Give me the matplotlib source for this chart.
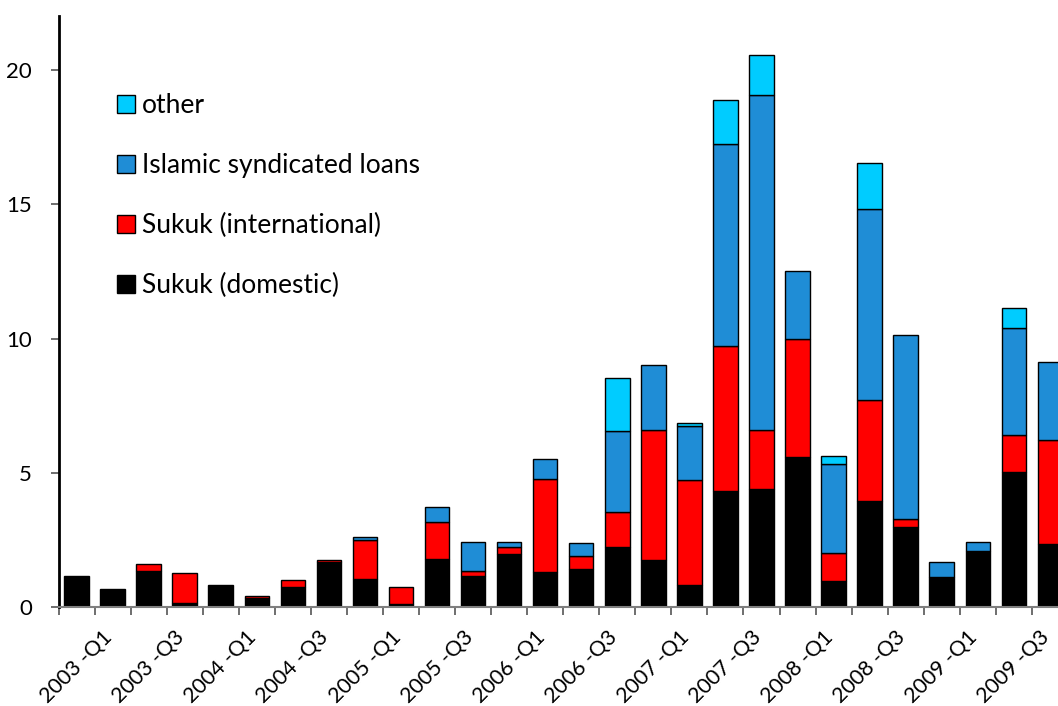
import matplotlib
matplotlib.use("Agg")
import matplotlib.pyplot as plt
import numpy as np

plt.rcParams['font.family'] = ['Lato', 'DejaVu Sans']

quarters = [f"{y} -Q{q}" for y in range(2003, 2010) for q in range(1, 5)]

sukuk_domestic = [1.17, 0.67, 1.36, 0.17, 0.82, 0.33, 0.77, 1.68, 1.07, 0.12,
                  1.81, 1.17, 1.97, 1.33, 1.41, 2.26, 1.76, 0.82, 4.34, 4.39,
                  5.58, 0.98, 3.95, 3.00, 1.13, 2.11, 5.04, 2.37]
sukuk_international = [0, 0, 0.25, 1.10, 0, 0.08, 0.23, 0.08, 1.42, 0.64,
                       1.37, 0.17, 0.28, 3.46, 0.49, 1.28, 4.84, 3.91, 5.40, 2.22,
                       4.42, 1.03, 3.75, 0.30, 0, 0, 1.37, 3.85]
islamic_loans = [0, 0, 0, 0, 0, 0, 0, 0, 0.12, 0,
                 0.57, 1.10, 0.19, 0.73, 0.49, 3.02, 2.40, 2.02, 7.50, 12.46,
                 2.52, 3.31, 7.11, 6.84, 0.57, 0.33, 3.97, 2.92]
other = [0, 0, 0, 0, 0, 0, 0, 0, 0, 0,
         0, 0, 0, 0, 0, 1.99, 0, 0.11, 1.63, 1.48,
         0, 0.31, 1.74, 0, 0, 0, 0.75, 0]

series = [
    ("Sukuk (domestic)", sukuk_domestic, "#000000"),
    ("Sukuk (international)", sukuk_international, "#FF0000"),
    ("Islamic syndicated loans", islamic_loans, "#1F8DD6"),
    ("other", other, "#00CCFF"),
]

W, H = 1058, 706
fig = plt.figure(figsize=(W / 100, H / 100), dpi=100)
ax = fig.add_axes([58.5 / W, 98.7 / H, 1009.4 / W, 591.1 / H])

x = np.arange(len(quarters))
bottom = np.zeros(len(quarters))
handles = []
for name, vals, col in series:
    v = np.array(vals, dtype=float)
    lw = np.where(v > 0, 1.0, 0.0)
    b = ax.bar(x, v, width=0.68, bottom=bottom, color=col, edgecolor="#000000",
               linewidth=lw, label=name)
    handles.append(b)
    bottom += v

ax.set_xlim(-0.5, len(quarters) - 0.5)
ax.set_ylim(0, 22)
ax.set_yticks([0, 5, 10, 15, 20])
ax.tick_params(axis='y', direction='out', length=6, width=1.2, color='#555555',
               labelsize=16, pad=13)

ax.set_xticks(x[::2])
ax.set_xticklabels(quarters[::2], rotation=45, ha='center', va='top', fontsize=15.5)
ax.set_xticks(np.arange(-0.5, len(quarters) + 0.5, 1), minor=True)
ax.tick_params(axis='x', which='major', length=0, pad=14)
ax.tick_params(axis='x', which='minor', direction='out', length=6, width=1.2, color='#555555')

for s in ['top', 'right']:
    ax.spines[s].set_visible(False)
ax.spines['left'].set_color('#000000')
ax.spines['left'].set_linewidth(2)
ax.spines['bottom'].set_color('#7f7f7f')
ax.spines['bottom'].set_linewidth(1.5)

leg = ax.legend(handles=handles[::-1], labels=[s[0] for s in series][::-1],
                loc='upper left', bbox_to_anchor=(117 / W, 1 - 93 / H),
                bbox_transform=fig.transFigure, frameon=False, fontsize=19,
                borderpad=0, borderaxespad=0, handlelength=0.68, handleheight=0.68,
                handletextpad=0.25, labelspacing=1.33)
for h in leg.legend_handles:
    h.set_edgecolor("#000000")
    h.set_linewidth(1.0)

fig.savefig("out.png", dpi=100)
